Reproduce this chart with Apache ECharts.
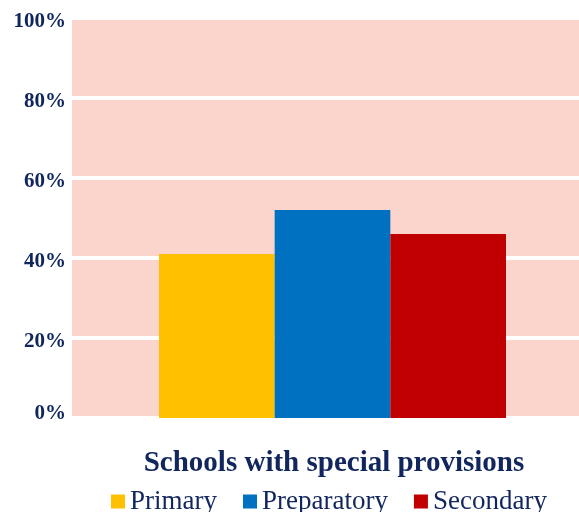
<!DOCTYPE html>
<html>
<head>
<meta charset="utf-8">
<script src="https://cdn.jsdelivr.net/npm/echarts@6/dist/echarts.min.js"></script>
<style>html,body{margin:0;padding:0;background:#fff;overflow:hidden}#c{width:593px;height:512px}</style>
</head>
<body>
<div id="c"></div>
<script>
const categories = ['Schools with special provisions'];
const seriesNames = ['Primary', 'Preparatory', 'Secondary'];
const primary = [41];
const preparatory = [52];
const secondary = [46];
const colors = ['#FFC000', '#0070C0', '#C00000'];
const textColor = '#12265E';

const chart = echarts.init(document.getElementById('c'));
const values = [primary, preparatory, secondary];
const labelFont = { fontFamily: 'Liberation Serif', fontWeight: 'bold', fontSize: 21, color: textColor };
chart.setOption({
  animation: false,
  title: {
    text: categories[0],
    left: 329, top: 444, textAlign: 'center',
    textStyle: { fontFamily: 'Liberation Serif', fontWeight: 'bold', fontSize: 29, color: textColor }
  },
  legend: {
    left: 106, top: 483,
    itemWidth: 14, itemHeight: 14, itemGap: 26,
    icon: 'rect',
    textStyle: { fontFamily: 'Liberation Serif', fontSize: 27, color: textColor },
    data: seriesNames
  },
  grid: {
    left: 72, right: 0, top: 18, bottom: 94,
    show: true, backgroundColor: '#FBD5CB', borderWidth: 0, containLabel: false
  },
  xAxis: {
    type: 'category', data: categories,
    axisLine: { show: false }, axisTick: { show: false }, axisLabel: { show: false }
  },
  yAxis: {
    type: 'value', min: 0, max: 100, interval: 20,
    axisLine: { show: false }, axisTick: { show: false },
    axisLabel: Object.assign({
      margin: 6,
      formatter: v => v === 0 ? '{z|0%}' : '{n|' + v + '%}',
      rich: {
        z: Object.assign({ padding: [0, 0, 8, 0] }, labelFont),
        n: Object.assign({ padding: [8, 0, 0, 0] }, labelFont)
      }
    }, labelFont),
    splitLine: { lineStyle: { color: '#FFFFFF', width: 4 } }
  },
  series: seriesNames.map((n, i) => ({
    name: n, type: 'bar', data: values[i],
    barGap: '0%', barCategoryGap: '33.4%',
    itemStyle: { color: colors[i] }
  }))
});
</script>
</body>
</html>
